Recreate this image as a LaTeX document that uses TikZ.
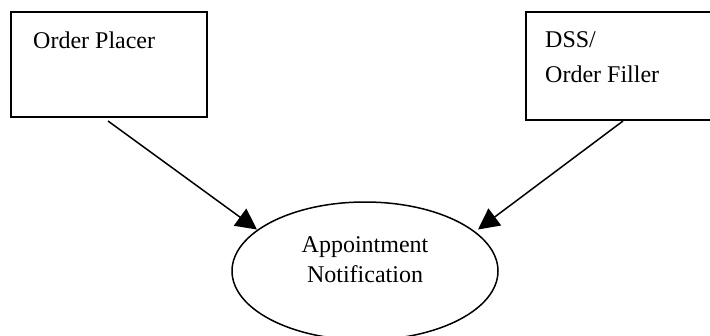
\documentclass[tikz,border=0pt]{standalone}
\usepackage{fontspec}
\setmainfont{Liberation Serif}
\usetikzlibrary{arrows.meta,shapes.geometric}
\begin{document}
\begin{tikzpicture}[x=1pt,y=-1pt,
  boxst/.style={draw=black,line width=2pt,minimum width=#1,inner sep=0pt,fill=white},
  lbl/.style={font=\fontsize{24}{35}\selectfont,inner sep=0pt,align=left},
  conn/.style={line width=1.5pt,-{Triangle[length=21pt,width=21pt]}}]
\useasboundingbox (0,0) rectangle (710,335);
\node[boxst=196pt,minimum height=105pt] (placer) at (109,64.5) {};
\node[boxst=190pt,minimum height=108pt] (filler) at (621,66) {};
\node[lbl,anchor=base west] (placertxt) at (33,48) {Order Placer};
\node[lbl,anchor=base west] (fillertxt) at (545,82) {DSS/\\Order Filler};
\node[draw=black,line width=1.5pt,ellipse,minimum width=266pt,minimum height=138pt,inner sep=0pt] (notif) at (365,271) {};
\node[font=\fontsize{24}{30}\selectfont,align=center,inner sep=0pt,anchor=base] (notiftxt) at (365,282) {Appointment\\Notification};
\coordinate (s1) at (108,121);
\coordinate (e1) at (257,229.5);
\coordinate (s2) at (623,121);
\coordinate (e2) at (478,229.5);
\draw[conn] (s1) -- (e1);
\draw[conn] (s2) -- (e2);
\end{tikzpicture}
\end{document}
